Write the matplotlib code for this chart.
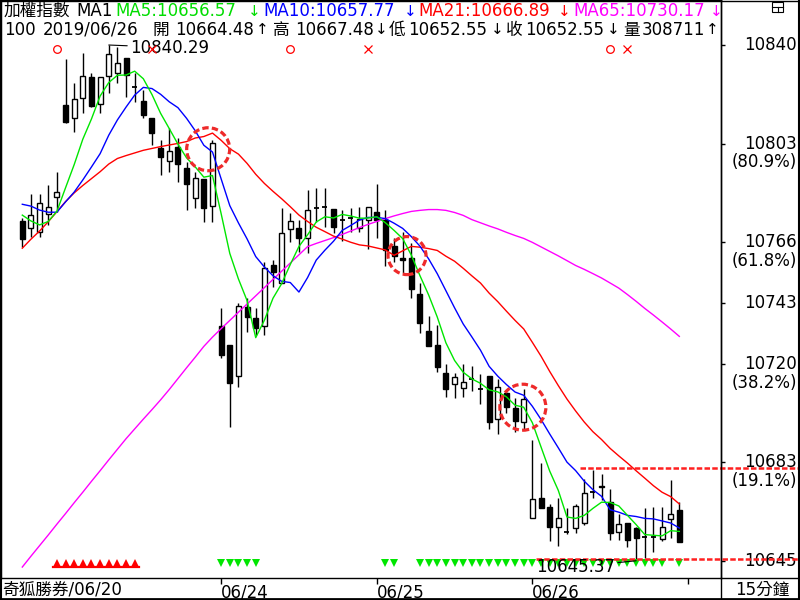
import matplotlib
matplotlib.use("Agg")
import matplotlib.pyplot as plt
import matplotlib.transforms as mtransforms
from matplotlib.patches import Ellipse, Rectangle
from matplotlib.lines import Line2D
import numpy as np

# 15-minute bars, 06/20 (last 5) .. 06/26
opens = [10773.8, 10771.0, 10769.7, 10776.4, 10783.0, 10817.6, 10812.6, 10820.1, 10828.1, 10817.9,
         10828.6, 10829.8, 10835.3, 10824.5, 10819.1, 10812.6, 10801.5, 10796.6, 10801.6, 10793.9,
         10782.4, 10789.5, 10779.4, 10734.1, 10726.9, 10715.3, 10741.2, 10737.0, 10734.2, 10757.1,
         10750.2, 10770.8, 10771.0, 10767.5, 10778.6, 10779.0, 10778.3, 10774.2, 10774.9, 10771.0,
         10774.2, 10777.2, 10774.0, 10764.3, 10759.7, 10759.7, 10746.2, 10732.2, 10726.9, 10716.3,
         10712.2, 10710.5, 10714.0, 10710.2, 10715.2, 10699.1, 10708.8, 10703.0, 10698.0, 10661.4,
         10669.1, 10665.6, 10658.0, 10656.2, 10657.6, 10659.8, 10671.4, 10673.6, 10667.7, 10656.3,
         10659.6, 10657.6, 10654.3, 10654.3, 10653.5, 10661.0, 10664.48]
highs = [10774.8, 10784.0, 10784.0, 10787.4, 10792.2, 10835.0, 10826.0, 10837.2, 10829.7, 10828.2,
         10840.29, 10839.4, 10835.4, 10829.6, 10823.3, 10812.7, 10804.4, 10808.8, 10805.0, 10796.2,
         10792.4, 10789.6, 10804.4, 10740.8, 10726.9, 10742.7, 10744.6, 10740.8, 10758.2, 10759.0,
         10778.6, 10776.9, 10774.2, 10785.5, 10786.1, 10786.1, 10778.3, 10777.9, 10778.6, 10779.2,
         10779.2, 10787.8, 10777.9, 10767.3, 10769.6, 10765.5, 10750.2, 10737.9, 10734.5, 10719.7,
         10716.3, 10719.7, 10719.0, 10716.0, 10715.2, 10714.0, 10709.9, 10706.9, 10710.3, 10691.0,
         10682.2, 10666.8, 10669.0, 10665.3, 10667.0, 10676.2, 10679.5, 10678.2, 10672.5, 10663.2,
         10659.6, 10658.1, 10665.3, 10665.8, 10665.8, 10675.9, 10667.48]
lows = [10764.1, 10767.8, 10767.6, 10772.3, 10777.3, 10811.0, 10807.3, 10814.7, 10817.0, 10814.6,
        10822.0, 10825.8, 10820.8, 10818.9, 10812.6, 10802.5, 10791.2, 10792.4, 10788.6, 10777.9,
        10778.6, 10773.5, 10773.5, 10722.1, 10695.9, 10711.2, 10731.9, 10730.7, 10730.7, 10749.0,
        10750.2, 10766.0, 10761.9, 10761.6, 10773.5, 10771.6, 10769.2, 10766.2, 10769.6, 10769.7,
        10763.2, 10767.5, 10756.6, 10758.3, 10754.1, 10744.6, 10731.3, 10726.5, 10716.8, 10707.3,
        10706.8, 10707.3, 10709.5, 10704.6, 10695.2, 10693.1, 10701.4, 10694.2, 10694.7, 10661.4,
        10665.2, 10653.0, 10651.1, 10655.5, 10656.0, 10658.9, 10669.0, 10668.3, 10653.4, 10653.2,
        10650.4, 10645.37, 10646.4, 10648.7, 10652.8, 10654.0, 10652.55]
closes = [10766.9, 10776.0, 10780.5, 10779.0, 10784.8, 10811.3, 10819.8, 10828.6, 10817.2, 10828.1,
          10836.8, 10833.6, 10829.0, 10824.5, 10813.8, 10806.9, 10798.1, 10800.2, 10795.2, 10787.8,
          10789.9, 10778.6, 10803.4, 10723.1, 10712.7, 10741.6, 10737.6, 10733.5, 10755.9, 10754.4,
          10769.1, 10773.9, 10767.5, 10777.9, 10778.6, 10779.0, 10771.6, 10774.2, 10774.9, 10774.5,
          10779.2, 10774.2, 10762.8, 10760.5, 10758.9, 10748.0, 10735.3, 10726.5, 10718.7, 10710.2,
          10714.7, 10713.0, 10714.0, 10710.2, 10697.9, 10710.9, 10703.6, 10698.2, 10706.4, 10668.6,
          10665.2, 10658.2, 10661.4, 10656.2, 10665.9, 10670.9, 10671.4, 10673.1, 10655.7, 10659.3,
          10653.2, 10653.9, 10654.3, 10654.3, 10658.2, 10663.0, 10652.55]

ma5 = [10776.0, 10773.8, 10772.3, 10773.6, 10777.44, 10786.32, 10795.08, 10804.70, 10812.34, 10821.00,
       10826.10, 10828.86, 10828.94, 10830.40, 10827.54, 10821.56, 10814.46, 10808.70, 10802.84, 10797.64,
       10794.24, 10790.34, 10790.98, 10776.56, 10761.54, 10751.88, 10743.68, 10729.70, 10736.26, 10744.60,
       10750.10, 10757.36, 10764.16, 10768.56, 10773.40, 10775.38, 10774.92, 10776.26, 10775.66, 10774.84,
       10774.88, 10775.40, 10773.12, 10770.24, 10767.12, 10760.88, 10753.10, 10745.84, 10737.48, 10727.74,
       10721.08, 10716.62, 10714.12, 10712.42, 10709.96, 10709.20, 10707.32, 10704.16, 10703.40, 10697.54,
       10688.40, 10679.32, 10671.96, 10661.92, 10661.38, 10662.52, 10665.16, 10667.50, 10667.40, 10666.08,
       10662.54, 10659.04, 10655.28, 10655.00, 10654.78, 10656.74, 10656.47]
ma10 = [10780.1, 10779.4, 10777.9, 10777.1, 10777.1, 10781.0, 10784.7, 10789.3, 10794.2, 10799.22,
        10806.21, 10811.97, 10816.82, 10821.37, 10824.27, 10823.83, 10821.66, 10818.82, 10816.62, 10812.59,
        10807.90, 10802.40, 10799.84, 10789.70, 10779.59, 10773.06, 10767.01, 10760.34, 10756.41, 10753.07,
        10750.99, 10750.52, 10746.93, 10752.41, 10759.00, 10762.74, 10766.14, 10770.21, 10772.11, 10774.12,
        10775.13, 10775.16, 10774.69, 10772.95, 10770.98, 10767.88, 10764.25, 10759.48, 10753.86, 10747.43,
        10740.98, 10734.86, 10729.98, 10724.95, 10718.85, 10715.14, 10711.97, 10709.14, 10707.91, 10703.75,
        10698.80, 10693.32, 10688.06, 10682.66, 10679.46, 10675.46, 10672.24, 10669.73, 10664.66, 10663.73,
        10662.53, 10662.10, 10661.39, 10661.20, 10660.43, 10659.64, 10657.76]
ma21 = [10763.5, 10766.9, 10770.0, 10773.5, 10777.3, 10781.1, 10784.4, 10787.2, 10789.8, 10792.4,
        10795.3, 10797.4, 10798.5, 10799.5, 10800.5, 10801.2, 10801.9, 10802.5, 10803.1, 10803.8,
        10805.14, 10805.70, 10807.00, 10804.27, 10801.11, 10799.06, 10795.55, 10791.44, 10787.98, 10784.99,
        10782.18, 10779.18, 10776.03, 10773.60, 10771.41, 10769.76, 10768.08, 10766.94, 10765.73, 10764.75,
        10764.34, 10763.59, 10762.84, 10760.80, 10762.50, 10764.18, 10763.88, 10763.35, 10762.65, 10760.47,
        10758.58, 10755.91, 10753.06, 10750.33, 10746.52, 10743.30, 10739.70, 10736.21, 10732.98, 10727.92,
        10722.71, 10716.95, 10711.58, 10706.50, 10702.00, 10697.81, 10694.16, 10691.20, 10687.83, 10685.00,
        10682.29, 10679.39, 10676.60, 10673.75, 10671.28, 10669.61, 10666.84]
ma65 = [10643.0, 10647.1, 10651.1, 10655.1, 10659.2, 10663.2, 10667.3, 10671.3, 10675.4, 10679.4,
        10683.5, 10687.5, 10691.5, 10695.2, 10698.9, 10702.5, 10706.2, 10710.1, 10714.2, 10718.3,
        10722.3, 10726.4, 10729.9, 10733.1, 10736.2, 10739.3, 10742.4, 10745.5, 10748.6, 10751.7,
        10754.8, 10757.9, 10761.0, 10764.1, 10765.3, 10766.4, 10767.5, 10768.7, 10770.0, 10771.3,
        10772.5, 10773.6, 10774.7, 10775.7, 10776.6, 10777.4, 10777.8, 10778.1, 10778.1, 10777.8,
        10777.0, 10775.9, 10774.3, 10773.1, 10771.9, 10770.8, 10769.5, 10768.3, 10767.2, 10765.7,
        10764.0, 10762.3, 10760.6, 10758.8, 10756.98, 10755.50, 10753.89, 10752.24, 10750.34, 10748.41,
        10745.98, 10743.43, 10740.75, 10738.24, 10735.63, 10732.96, 10730.17]

day_starts = [23, 41, 59, 77]
day_labels = ["06/24", "06/25", "06/26", ""]

fib_levels = [10840.29, 10803.06, 10765.83, 10742.83, 10719.83, 10682.60, 10645.37]
fib_labels = ["10840", "10803", "10766", "10743", "10720", "10683", "10645"]
fib_pcts = ["", "(80.9%)", "(61.8%)", "", "(38.2%)", "(19.1%)", ""]

buy_bars = [4, 31, 68]
sell_bars = [15, 40, 70]
long_bars = list(range(4, 14))
short_bars = list(range(23, 28)) + [42, 43] + list(range(46, 75)) + [76]

circle_bars = [21.5, 44.5, 57.9]
circle_prices = [10800.9, 10760.7, 10703.4]
circle_radius_px = [21.5, 19.0, 23.0]

line_levels = [10646.2, 10680.4]
line_starts = [59.4, 64.5]

hi_bar, lo_bar = 10, 71

W, H = 800, 600
PX_PER_BAR = 8.645
PX_PER_PT = 2.646

plt.rcParams['font.family'] = ['DejaVu Sans', 'Noto Sans CJK TC']
plt.rcParams['font.size'] = 12

fig = plt.figure(figsize=(8, 6), dpi=100)
fig.patch.set_facecolor('white')
ax = fig.add_axes([1 / W, 22 / H, 720 / W, 578 / H])
ax.set_xlim(-2.464, 80.82)
ax.set_ylim(10638.86, 10857.30)
for sp in ax.spines.values():
    sp.set_color('black')
    sp.set_linewidth(1.0)

idx = np.arange(len(closes))
o = np.array(opens)
c = np.array(closes)
up = c > o
dn = c < o
dj = c == o
body_w = 0.58

# candles
ax.vlines(idx, lows, highs, color='black', lw=1.0, zorder=2)
ax.bar(idx[up], (c - o)[up], bottom=o[up], width=body_w, facecolor='white',
       edgecolor='black', lw=1.0, zorder=3)
ax.bar(idx[dn], (o - c)[dn], bottom=c[dn], width=body_w, facecolor='black',
       edgecolor='black', lw=1.0, zorder=3)
ax.hlines(c[dj], idx[dj] - body_w / 2, idx[dj] + body_w / 2, color='black', lw=1.3, zorder=3)

# moving averages
ax.plot(idx, ma65, color='#ff00ff', lw=1.0, zorder=4)
ax.plot(idx, ma21, color='#ff0000', lw=1.0, zorder=4)
ax.plot(idx, ma10, color='#0000ff', lw=1.0, zorder=4)
ax.plot(idx, ma5, color='#00e600', lw=1.0, zorder=4)

# dashed signal circles
for bx, py, r in zip(circle_bars, circle_prices, circle_radius_px):
    ax.add_patch(Ellipse((bx, py), 2 * r / PX_PER_BAR, 2 * r / PX_PER_PT, fill=False,
                         edgecolor='#ee2a2a', lw=2.3, linestyle=(0, (2.0, 1.0)), zorder=6))

# support / resistance dashed lines running into the price panel
for lev, x0 in zip(line_levels, line_starts):
    ax.plot([x0, 90.0], [lev, lev], color='#ff2020', lw=1.8, linestyle=(0, (2.2, 0.9)),
            clip_on=False, zorder=7)

# buy / sell markers along the top
top_tr = mtransforms.blended_transform_factory(ax.transData, ax.transAxes)
ax.plot(buy_bars, [0.9152] * len(buy_bars), 'o', ms=5.5, mfc='none', mec='#ff0000',
        mew=0.9, transform=top_tr, zorder=8)
ax.plot(sell_bars, [0.9152] * len(sell_bars), 'x', ms=5.5, mec='#ff0000',
        mew=0.9, transform=top_tr, zorder=8)

# trend strips along the bottom
ax.plot(long_bars, [0.0259] * len(long_bars), '^', ms=6.2, color='#ff0000', mew=0,
        transform=top_tr, zorder=5)
ax.plot([long_bars[0] - 0.5, long_bars[-1] + 0.5], [0.0195, 0.0195], color='#ff0000', lw=1.6,
        transform=top_tr, zorder=5)
ax.plot(short_bars, [0.0259] * len(short_bars), 'v', ms=6.2, color='#00e600', mew=0,
        transform=top_tr, zorder=5)

# high / low annotations
ax.annotate(f"{highs[hi_bar]:.2f}", xy=(hi_bar, highs[hi_bar]), xytext=(15.3, -1.8),
            textcoords='offset points', ha='left', va='center', fontsize=12,
            arrowprops=dict(arrowstyle='-', color='black', lw=0.8, shrinkA=0, shrinkB=0),
            zorder=7)
ax.annotate(f"{lows[lo_bar]:.2f}", xy=(lo_bar, lows[lo_bar]), xytext=(-15.1, -4.3),
            textcoords='offset points', ha='right', va='center', fontsize=12,
            arrowprops=dict(arrowstyle='-', color='black', lw=0.8, shrinkA=0, shrinkB=0),
            annotation_clip=False, zorder=7)

# axis ticks
ax.yaxis.tick_right()
ax.set_yticks(fib_levels)
ax.tick_params(axis='y', direction='out', length=3, width=1, labelright=False, labelleft=False)
ax.set_xticks(day_starts)
ax.set_xticklabels(day_labels)
ax.tick_params(axis='x', direction='out', length=4, width=1, pad=0, labelsize=12)
for lbl in ax.get_xticklabels():
    lbl.set_ha('left')

# price labels in the right panel
rtr = mtransforms.blended_transform_factory(fig.transFigure, ax.transData)
for lev, lab, pct in zip(fib_levels, fib_labels, fib_pcts):
    ax.text(797 / W, lev, lab, transform=rtr, ha='right', va='center', fontsize=12, clip_on=False)
    if pct:
        ax.annotate(pct, xy=(797 / W, lev), xycoords=rtr, xytext=(0, -13.5),
                    textcoords='offset points', ha='right', va='center', fontsize=12)

# header lines
def put(xp, yp, s, color='black', ha='left', size=12):
    fig.text(xp / W, 1 - yp / H, s, color=color, ha=ha, va='center', fontsize=size)

def arrow(xc, yp, s, color='black'):
    put(xc, yp, s, color, ha='center', size=11)

GREEN, BLUE, RED, MAG = '#00dd00', '#0000ff', '#ff0000', '#ff00ff'
put(4, 11, "加權指數")
put(76, 11, "MA1")
put(115, 11, "MA5:10656.57", GREEN)
arrow(254, 11, "↓", GREEN)
put(263, 11, "MA10:10657.77", BLUE)
arrow(410, 11, "↓", BLUE)
put(418, 11, "MA21:10666.89", RED)
arrow(564, 11, "↓", RED)
put(573, 11, "MA65:10730.17", MAG)
arrow(716, 11, "↓", MAG)

for xp, s in [(4, "100"), (43, "2019/06/26"), (152, "開"), (175, "10664.48"),
              (273, "高"), (295, "10667.48"), (389, "低"), (408, "10652.55"),
              (506, "收"), (525, "10652.55"), (623, "量"), (642, "308711")]:
    put(xp, 30, s)
for xc, s in [(262, "↑"), (381, "↓"), (497, "↓"), (613, "↓"), (712, "↑")]:
    arrow(xc, 30, s)

# bottom strip texts
put(2, 590, "奇狐勝券/06/20")
fig.text(762 / W, 1 - 590 / H, "15分鐘", ha='center', va='center', fontsize=12)

# frame lines of the whole window
def fline(x0, y0, x1, y1, lw=1.0):
    fig.add_artist(Line2D([x0 / W, x1 / W], [1 - y0 / H, 1 - y1 / H], color='black', lw=lw))

fline(721, 0, 721, 600)
fline(721, 578, 800, 578)
fline(0.5, 0, 0.5, 600, 1.5)
fline(799, 0, 799, 600, 1.5)
fline(0, 599, 800, 599, 2.0)
fline(0, 0.5, 800, 0.5, 1.0)

# little window icon, top right
fig.add_artist(Rectangle((772 / W, 1 - 12 / H), 11 / W, 10 / H, fill=False, lw=0.8,
                         edgecolor='black', transform=fig.transFigure))
fline(772, 7, 783, 7, 0.8)
fline(777.5, 7, 777.5, 12, 0.8)

fig.savefig("out.png", dpi=100, facecolor='white')
